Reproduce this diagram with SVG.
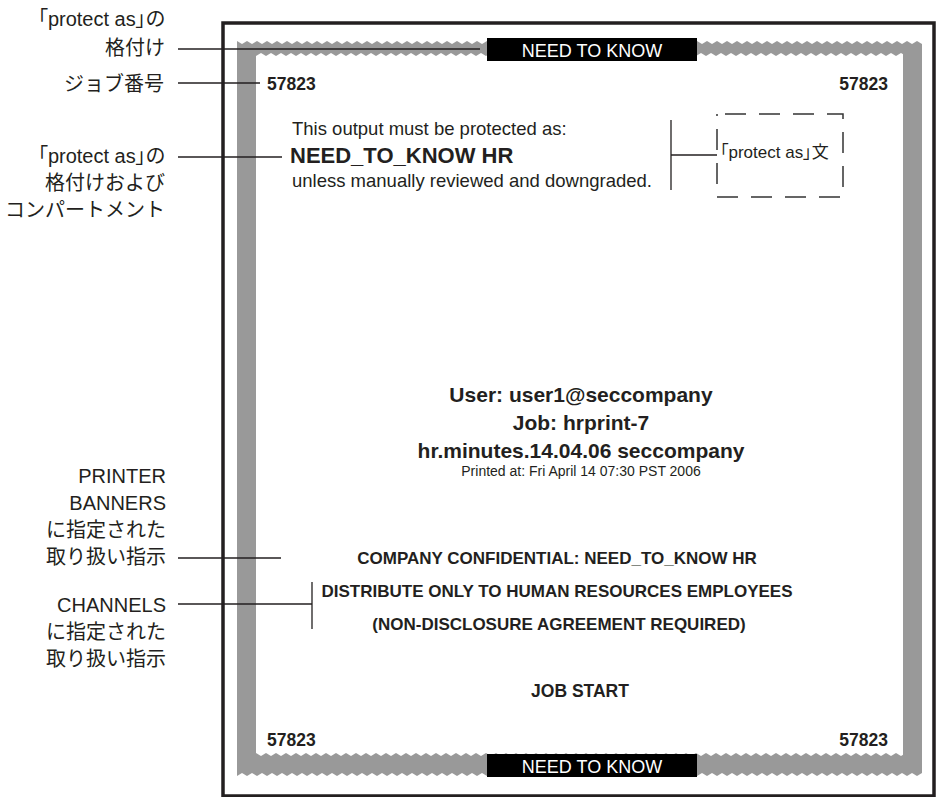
<svg xmlns="http://www.w3.org/2000/svg" width="937" height="797" viewBox="0 0 937 797">
<style>
.lbl{font-family:"Liberation Sans","Noto Sans CJK JP",sans-serif;font-size:20px;fill:#231f20;text-anchor:end}
.t{font-family:"Liberation Sans","Noto Sans CJK JP",sans-serif;fill:#231f20}
.pa{font-feature-settings:"palt"}
.b{font-weight:bold}
.num{font-family:"Liberation Sans",sans-serif;font-weight:bold;font-size:17.5px;fill:#231f20}
.ntk{font-family:"Liberation Sans",sans-serif;font-size:18px;fill:#fff;text-anchor:middle}
.mid{text-anchor:middle}
.ln{stroke:#231f20;stroke-width:1.3;fill:none}
.band{fill:#999}
</style>
<defs>
<pattern id="zzA" x="237" y="41" width="10" height="3" patternUnits="userSpaceOnUse"><polygon points="0,0 10,0 5,3" fill="#fff"/></pattern>
<pattern id="zzB" x="256" y="53" width="10" height="3" patternUnits="userSpaceOnUse"><polygon points="0,3 10,3 5,0" fill="#fff"/></pattern>
<pattern id="zzC" x="256" y="753" width="10" height="3" patternUnits="userSpaceOnUse"><polygon points="0,0 10,0 5,3" fill="#fff"/></pattern>
<pattern id="zzD" x="237" y="773" width="10" height="3" patternUnits="userSpaceOnUse"><polygon points="0,3 10,3 5,0" fill="#fff"/></pattern>
</defs>
<rect width="937" height="797" fill="#fff"/>

<g id="page">
<rect x="223" y="23" width="711" height="773" fill="none" stroke="#231f20" stroke-width="3.5"/>
<rect class="band" x="237" y="41" width="685" height="15"/>
<rect class="band" x="237" y="753" width="685" height="23"/>
<rect class="band" x="237" y="41" width="19" height="735"/>
<rect class="band" x="903" y="41" width="19" height="735"/>
<rect x="237" y="41" width="685" height="3" fill="url(#zzA)"/>
<rect x="256" y="53" width="647" height="3" fill="url(#zzB)"/>
<rect x="256" y="753" width="647" height="3" fill="url(#zzC)"/>
<rect x="237" y="773" width="685" height="3" fill="url(#zzD)"/>
</g>

<g id="banner-top">
<rect x="487" y="38" width="210" height="23" fill="#000"/>
<text class="ntk" x="592" y="57">NEED TO KNOW</text>
</g>
<g id="banner-bottom">
<rect x="487" y="754" width="210" height="23" fill="#000"/>
<text class="ntk" x="592" y="773">NEED TO KNOW</text>
</g>

<g id="job-numbers">
<text class="num" x="267" y="90">57823</text>
<text class="num" x="888" y="90" text-anchor="end">57823</text>
<text class="num" x="267" y="746">57823</text>
<text class="num" x="888" y="746" text-anchor="end">57823</text>
</g>

<g id="protect-text">
<text class="t" x="292" y="135" font-size="18.5">This output must be protected as:</text>
<text class="t b" x="290" y="163" font-size="22">NEED_TO_KNOW HR</text>
<text class="t" x="292" y="187" font-size="18.5">unless manually reviewed and downgraded.</text>
</g>

<g id="protect-as-box">
<rect x="717" y="114" width="126" height="83" fill="none" stroke="#333" stroke-width="1.5" stroke-dasharray="21 13" stroke-dashoffset="-8"/>
<text class="t pa" x="720" y="158" font-size="17">「protect as」文</text>
</g>

<g id="job-info">
<text class="t b mid" x="581" y="402" font-size="21">User: user1@seccompany</text>
<text class="t b mid" x="581" y="430" font-size="21">Job: hrprint-7</text>
<text class="t b mid" x="581" y="458" font-size="21">hr.minutes.14.04.06 seccompany</text>
<text class="t mid" x="581" y="476" font-size="14">Printed at: Fri April 14 07:30 PST 2006</text>
</g>

<g id="handling">
<text class="t b mid" x="557" y="564" font-size="17">COMPANY CONFIDENTIAL: NEED_TO_KNOW HR</text>
<text class="t b mid" x="557" y="597" font-size="17">DISTRIBUTE ONLY TO HUMAN RESOURCES EMPLOYEES</text>
<text class="t b mid" x="559" y="630" font-size="17">(NON-DISCLOSURE AGREEMENT REQUIRED)</text>
</g>

<g id="job-start">
<text class="t b mid" x="580" y="697" font-size="17.5">JOB START</text>
</g>

<g id="label-classification">
<text class="lbl pa" x="165" y="26">「protect as」の</text>
<text class="lbl" x="165" y="55">格付け</text>
</g>
<g id="label-jobnumber">
<text class="lbl" x="164" y="91">ジョブ番号</text>
</g>
<g id="label-compartment">
<text class="lbl pa" x="165" y="163">「protect as」の</text>
<text class="lbl" x="165" y="190">格付けおよび</text>
<text class="lbl" x="165" y="217">コンパートメント</text>
</g>
<g id="label-printer-banners">
<text class="lbl" x="166" y="483">PRINTER</text>
<text class="lbl" x="166" y="510">BANNERS</text>
<text class="lbl" x="166" y="537">に指定された</text>
<text class="lbl" x="166" y="564">取り扱い指示</text>
</g>
<g id="label-channels">
<text class="lbl" x="166" y="612">CHANNELS</text>
<text class="lbl" x="166" y="639">に指定された</text>
<text class="lbl" x="166" y="666">取り扱い指示</text>
</g>

<g id="connectors">
<line class="ln" x1="178" y1="49" x2="480" y2="49"/>
<line class="ln" x1="178" y1="83" x2="260" y2="83"/>
<line class="ln" x1="178" y1="157" x2="282" y2="157"/>
<line class="ln" x1="671" y1="120" x2="671" y2="190"/>
<line class="ln" x1="671" y1="155" x2="717" y2="155"/>
<line class="ln" x1="178" y1="558" x2="281" y2="558"/>
<line class="ln" x1="178" y1="604" x2="312" y2="604"/>
<line class="ln" x1="312" y1="582" x2="312" y2="629"/>
</g>
</svg>
